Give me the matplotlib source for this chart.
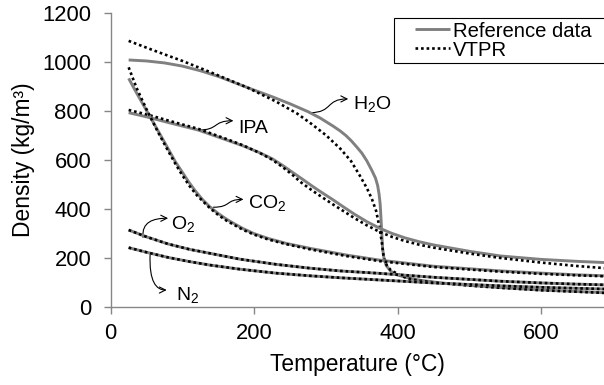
import matplotlib
matplotlib.use('Agg')
import matplotlib.pyplot as plt
from matplotlib.patches import FancyArrowPatch, Rectangle
from matplotlib.path import Path

plt.rcParams['font.family'] = ['Liberation Sans', 'DejaVu Sans']
plt.rcParams['mathtext.fontset'] = 'custom'
plt.rcParams['mathtext.rm'] = 'Liberation Sans'
plt.rcParams['mathtext.it'] = 'Liberation Sans:italic'

# Temperature (°C) / density (kg/m3)
h2o_ref_t = [25, 50, 75, 100, 125, 150, 175, 200, 225, 250, 275, 292, 310, 320, 328, 335, 342, 350, 357, 364, 369, 372, 374, 375.5, 376.5, 378, 379, 381, 384, 390, 399, 415, 431, 460, 500, 543, 600, 650, 690]
h2o_ref_rho = [1007, 1003, 995, 982, 963, 940, 912, 884, 857, 828, 796, 770, 737, 717, 698, 678, 655, 627, 595, 556, 525, 495, 460, 420, 370, 290, 235, 195, 168, 145, 130, 117, 108, 97, 87, 78, 68, 62, 57]
h2o_vtpr_t = [25, 60, 100, 140, 190, 230, 260, 278, 300, 320, 335, 347, 357, 364, 370, 373, 376, 378, 380, 382, 385, 390, 399, 412, 430, 460, 500, 543, 600, 650, 690]
h2o_vtpr_rho = [1085, 1046, 1003, 956, 895, 838, 788, 750, 700, 645, 594, 536, 484, 440, 390, 347, 298, 260, 212, 186, 168, 150, 135, 117, 106, 96, 86, 77, 67, 61, 56]

ipa_ref_t = [25, 50, 80, 122, 160, 185, 208, 225, 240, 255, 264, 280, 290, 310, 325, 340, 357, 375, 392, 410, 430, 450, 500, 543, 600, 650, 690]
ipa_ref_rho = [792, 775, 752, 721, 682, 656, 628, 604, 576, 545, 527, 494, 474, 436, 406, 377, 347, 320, 299, 281, 265, 252, 226, 207, 193, 185, 180]
ipa_vtpr_t = [25, 50, 80, 122, 160, 185, 208, 225, 240, 255, 264, 280, 290, 310, 325, 340, 357, 375, 392, 410, 430, 450, 500, 543, 600, 650, 690]
ipa_vtpr_rho = [803, 785, 760, 726, 686, 658, 627, 600, 569, 534, 510, 476, 456, 417, 389, 361, 332, 305, 285, 268, 253, 241, 217, 199, 180, 166, 157]

co2_ref_t = [25, 35, 45, 59, 70, 80, 90, 100, 108, 118, 128, 138, 150, 162, 175, 185, 200, 220, 245, 278, 330, 375, 450, 543, 600, 650, 690]
co2_ref_rho = [932, 878, 826, 754, 697, 645, 592, 548, 512, 472, 437, 408, 380, 356, 334, 318, 298, 278, 258, 238, 210, 190, 165, 146, 137, 130, 126]
co2_vtpr_t = [25, 36, 50, 66, 80, 90, 99, 110, 120, 130, 138, 150, 162, 175, 185, 200, 220, 245, 278, 330, 375, 450, 543, 600, 650, 690]
co2_vtpr_rho = [977, 893, 805, 712, 636, 584, 540, 492, 455, 426, 403, 374, 350, 329, 313, 294, 274, 255, 234, 206, 186, 162, 143, 134, 128, 124]

o2_t = [25, 50, 80, 110, 138, 180, 230, 278, 320, 375, 450, 543, 600, 650, 690]
o2_ref_rho = [313, 285, 256, 234, 218, 194, 173, 157, 146, 136, 120, 104, 97, 92, 89]
o2_vtpr_rho = [313, 285, 256, 234, 218, 194, 173, 157, 146, 136, 120, 104, 97, 92, 89]

n2_t = [25, 50, 80, 110, 138, 180, 230, 278, 320, 375, 450, 543, 600, 650, 690]
n2_ref_rho = [241, 222, 201, 184, 170, 153, 137, 126, 118, 109, 97, 85, 79, 75, 72]
n2_vtpr_rho = [241, 222, 201, 184, 170, 153, 137, 126, 118, 109, 97, 85, 79, 75, 72]


def draw_pair(ax, t_ref, rho_ref, t_vtpr, rho_vtpr, first=False):
    ax.plot(t_ref, rho_ref, color='#808080', lw=2.1, solid_capstyle='butt',
            solid_joinstyle='round', label='Reference data' if first else None)
    ax.plot(t_vtpr, rho_vtpr, color='black', lw=1.9, linestyle=(0, (1, 1.1)),
            label='VTPR' if first else None)


# curved arrow from the curve (tail) to the label (head), then the label text
def label_arrow(ax, text, tail, head, text_pos, start_up=None):
    (t0, r0), (t3, r3) = tail, head
    if start_up is None:
        c1 = (t0 + 0.6 * (t3 - t0), r0)
    else:
        c1 = (t0 - 2, r0 + 0.8 * (r3 - r0))
    c2 = (t3 - 0.6 * (t3 - t0), r3)
    path = Path([tail, c1, c2, head],
                [Path.MOVETO, Path.CURVE4, Path.CURVE4, Path.CURVE4])
    arrow = FancyArrowPatch(path=path, arrowstyle='->', mutation_scale=11,
                            color='black', lw=0.8, transform=ax.transData)
    ax.add_patch(arrow)
    ax.text(text_pos[0], text_pos[1], text, fontsize=14, va='baseline', ha='left')


fig = plt.figure(figsize=(6.04, 3.85), dpi=100)
ax = fig.add_axes([0.1833, 0.2034, 0.8167, 0.7636])
ax.set_xlim(0, 687.5)
ax.set_ylim(0, 1200)

draw_pair(ax, h2o_ref_t, h2o_ref_rho, h2o_vtpr_t, h2o_vtpr_rho, first=True)
draw_pair(ax, ipa_ref_t, ipa_ref_rho, ipa_vtpr_t, ipa_vtpr_rho)
draw_pair(ax, co2_ref_t, co2_ref_rho, co2_vtpr_t, co2_vtpr_rho)
draw_pair(ax, o2_t, o2_ref_rho, o2_t, o2_vtpr_rho)
draw_pair(ax, n2_t, n2_ref_rho, n2_t, n2_vtpr_rho)

label_arrow(ax, 'H$_2$O', (278, 792), (331, 848), (338, 807))
label_arrow(ax, 'IPA', (122, 721), (171, 759), (178, 710))
label_arrow(ax, 'CO$_2$', (143, 406), (185, 438), (192, 402))
label_arrow(ax, 'O$_2$', (45, 283), (80, 361), (84, 316), start_up=True)
label_arrow(ax, 'N$_2$', (55, 218), (78, 68), (91, 27), start_up=True)

ax.set_xticks([0, 200, 400, 600])
ax.set_yticks([0, 200, 400, 600, 800, 1000, 1200])
for side in ['top', 'right']:
    ax.spines[side].set_visible(False)
for side in ['left', 'bottom']:
    ax.spines[side].set_color('#868686')
    ax.spines[side].set_linewidth(1.0)
ax.tick_params(axis='both', colors='#868686', length=5, width=1.0, labelsize=15.8,
               labelcolor='black')
ax.tick_params(axis='y', pad=9)
ax.tick_params(axis='x', pad=7)
ax.set_xlabel('Temperature (°C)', fontsize=16.4, labelpad=6)
ax.set_ylabel('Density (kg/m³)', fontsize=16.4, labelpad=5)

# legend frame runs off the right edge of the picture, as in the source
fig.add_artist(Rectangle((394 / 604, 1 - 63 / 385), 0.5, 45 / 385, fill=False,
                         edgecolor='black', lw=0.8, transform=fig.transFigure))
ax.legend(loc='upper left', bbox_to_anchor=(0.617, 0.970), fontsize=14.6,
          frameon=False, handlelength=1.7, handletextpad=0.15,
          borderpad=0, labelspacing=0.0, borderaxespad=0)

fig.savefig('out.png', dpi=100)
